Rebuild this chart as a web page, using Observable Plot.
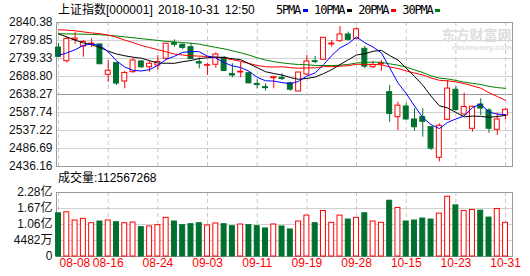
<!DOCTYPE html>
<html><head><meta charset="utf-8">
<script src="https://cdn.jsdelivr.net/npm/d3@7"></script>
<script src="https://cdn.jsdelivr.net/npm/@observablehq/plot@0.6"></script>
<style>
body{margin:0;background:#fff;}
#wrap{position:relative;width:530px;height:276px;overflow:hidden;font-family:"Liberation Sans","Noto Sans CJK SC",sans-serif;color:#000;}
#wrap svg{position:absolute;left:0;}
.t{position:absolute;font-size:12px;line-height:12px;white-space:pre;}
#legend{position:absolute;left:276px;top:4px;display:flex;align-items:center;font-family:"DejaVu Sans Mono",monospace;font-size:12px;letter-spacing:-1.2px;line-height:12px;}
#legend i{display:inline-block;width:5px;height:3px;margin:0 6px 0 3px;}
</style></head><body><div id="wrap"></div>
<script>
// ---- data ----
const dates = ["08-08","08-09","08-10","08-13","08-14","08-15","08-16","08-17","08-20","08-21","08-22","08-23","08-24","08-27","08-28","08-29","08-30","08-31",
"09-03","09-04","09-05","09-06","09-07","09-10","09-11","09-12","09-13","09-14","09-17","09-18","09-19","09-20","09-21","09-25","09-26","09-27","09-28",
"10-08","10-09","10-10","10-11","10-12","10-15","10-16","10-17","10-18","10-19","10-22","10-23","10-24","10-25","10-26","10-29","10-30","10-31"];
const opens = [2770,2731.8,2791.5,2773,2779,2778.6,2693.6,2726.2,2674.8,2700.9,2730.9,2714.9,2719.7,2738.5,2782.3,2777.8,2771.1,2729,
2719,2721.7,2741.3,2696,2700,2698,2668,2658.8,2684,2685,2670,2646.7,2694.4,2731.5,2735.7,2779,2787.9,2806.7,2794.6,
2766.6,2714.9,2723,2644.8,2574.6,2604.6,2568.1,2574.6,2546.5,2460.6,2567.3,2651.5,2582.2,2542,2610.2,2593.4,2539.2,2579.4];
const highs = [2781,2798.3,2812,2790,2795,2780.6,2733.7,2728.1,2702.9,2738.5,2733.7,2731.8,2747.8,2781.5,2791.8,2780.6,2782.3,2741.3,
2726.2,2755.3,2744.9,2724.5,2729,2700,2679.6,2668.3,2690,2696.4,2672.8,2700.5,2747.8,2744.9,2798.3,2789.9,2829.2,2813.2,2825.5,
2773,2731.8,2733.7,2663.6,2616.7,2613.9,2598.2,2598.2,2547,2556,2677.6,2660,2641.9,2605.4,2626.2,2598.2,2585.8,2598.2];
const lows = [2742,2726.2,2779,2743,2770,2722,2672.8,2663.6,2654.3,2698,2711.3,2700.9,2705.7,2735.7,2771.1,2763.8,2736,2710.4,
2691.6,2712.1,2703,2685.2,2685.2,2668.3,2654.3,2647.5,2654.3,2677.6,2647.5,2646,2691.6,2724.5,2733.7,2771.1,2785.1,2787.9,2791.8,
2710.4,2711,2703.7,2560.5,2537.2,2566,2535.3,2518.4,2481.1,2449.2,2565,2590,2579.4,2532.5,2579.4,2529.7,2523.2,2567.3];
const closes = [2744.07,2794.38,2795.31,2785.87,2780.96,2723.26,2705.19,2668.97,2698.47,2733.85,2714.61,2724.62,2729.43,2780.90,2777.98,2769.30,2737.74,2725.25,
2720.73,2750.58,2704.34,2691.59,2702.30,2669.48,2664.80,2656.11,2686.58,2681.64,2651.79,2699.95,2730.85,2729.24,2797.49,2781.14,2806.81,2791.77,2821.35,
2716.51,2721.01,2725.84,2583.46,2606.91,2568.10,2546.33,2561.61,2486.42,2550.47,2654.88,2594.83,2603.30,2603.80,2598.85,2542.10,2568.05,2595.4];
const ma5 = [2748,2755,2764,2776,2780.12,2775.96,2758.12,2732.85,2715.37,2705.95,2704.22,2708.10,2720.20,2736.68,2745.51,2756.45,2759.07,2758.23,
2746.20,2740.72,2727.73,2718.50,2713.91,2703.66,2686.50,2676.86,2675.85,2671.72,2668.18,2675.21,2690.16,2698.69,2721.86,2747.73,2769.11,2781.29,2799.71,
2783.52,2771.49,2755.30,2713.63,2670.75,2641.06,2606.13,2573.28,2553.87,2542.59,2559.94,2569.64,2577.98,2601.46,2611.13,2588.58,2583.22,2581.64];
const ma10 = [2808,2800,2791,2783,2778,2770,2760,2752,2747,2743.04,2740.09,2733.11,2726.53,2726.03,2725.73,2730.34,2733.59,2739.22,
2741.44,2743.12,2742.09,2738.79,2736.07,2724.93,2713.61,2702.30,2697.18,2692.82,2685.92,2680.86,2683.51,2687.27,2696.79,2707.96,2722.16,2735.73,2749.20,
2752.69,2759.61,2762.21,2747.46,2735.23,2712.29,2688.81,2664.29,2633.75,2606.67,2600.50,2587.89,2575.63,2577.67,2576.86,2574.26,2576.43,2579.81];
const ma20 = [2820,2819,2817,2814,2811,2809,2805,2799,2791,2784,2776,2770,2764,2758,2752,2749,2747,2746,
2745,2743.08,2741.09,2735.95,2731.30,2725.48,2719.67,2716.32,2715.39,2716.02,2713.68,2711.99,2712.80,2713.03,2716.43,2716.45,2717.89,2719.02,2723.19,
2722.76,2722.77,2721.54,2715.49,2711.25,2704.54,2698.39,2693.23,2684.74,2677.94,2676.60,2673.75,2668.92,2662.57,2656.05,2643.28,2632.62,2622.05];
const ma30 = [2809,2808.5,2808,2807.5,2807,2806,2804.5,2802.5,2800,2797.5,2795,2792.5,2790,2787.5,2786,2784,2782,2779.5,
2775,2770.5,2766.5,2761,2755.5,2749,2741.5,2735,2730.5,2727,2724.5,2722.34,2721.90,2719.72,2719.80,2719.64,2720.50,2722.79,2726.66,
2728.24,2728.99,2728.73,2724.35,2720.43,2715.05,2707.23,2700.02,2690.59,2684.35,2682.00,2677.81,2672.90,2669.55,2666.45,2661.11,2657.73,2655.42];
// volume, in 亿 (100 million)
const volumes = [1.488,1.526,1.212,1.276,1.109,1.174,1.212,1.147,1.109,1.136,0.958,0.984,1.034,1.314,1.174,1.034,1.071,1.109,
1.022,1.098,1.071,0.996,1.060,1.034,0.996,0.909,1.060,0.984,0.871,1.174,1.401,1.109,1.579,1.125,1.401,1.250,1.314,
1.488,1.174,1.125,1.969,1.693,1.174,1.212,1.288,1.250,1.477,2.121,1.791,1.579,1.617,1.590,1.325,1.655,1.1257];
const priceTicks = [2436.16,2486.69,2537.22,2587.74,2638.27,2688.80,2739.33,2789.85,2840.38];
const midPriceTick = 2638.27;
// the volume axis runs from a floor below zero that the chart labels "0"
const volTicks = [-0.1636,0.4482,1.06,1.6718,2.2836];
const volTickLabels = ["0","4482万","1.06亿","1.67亿","2.28亿"];
const dateTicks = ["08-08","08-16","08-24","09-03","09-11","09-19","09-28","10-15","10-23","10-31"];
const titleText = "上证指数[000001] 2018-10-31 12:50";
const volumeText = "成交量:112567268";
const legendItems = [["5PMA","#0000ff"],["10PMA","#000000"],["20PMA","#ff0000"],["30PMA","#008000"]];

// ---- drawing ----
const RED = "#ff0000", GREEN = "#00702f";
const rows = dates.map((date,i)=>({date, open:opens[i], high:highs[i], low:lows[i], close:closes[i],
  ma5:ma5[i], ma10:ma10[i], ma20:ma20[i], ma30:ma30[i], volume:volumes[i], up: closes[i] >= opens[i]}));
const up = rows.filter(r=>r.up), down = rows.filter(r=>!r.up);
const fontFamily = '"Liberation Sans","Noto Sans CJK SC",sans-serif';
const xOpt = () => ({type:"band", domain:dates, range:[53.9,509.2], paddingInner:0.28, paddingOuter:0.14, round:false, axis:null});
const common = {width:530, marginLeft:56, marginRight:18,
  style:{fontFamily, fontSize:"12px", background:"transparent", color:"#000", overflow:"visible"}};

const pLo = priceTicks[0], pHi = priceTicks[priceTicks.length-1];
const main = Plot.plot({
  ...common, height:172, marginTop:22, marginBottom:6,
  x: xOpt(),
  y: {domain:[pLo,pHi], axis:null},
  marks:[
    Plot.ruleY(priceTicks.filter(t=>t!==pLo && t!==pHi && t!==midPriceTick), {stroke:"#d0d0d0"}),
    Plot.ruleY([midPriceTick], {stroke:"#999", strokeWidth:1.2}),
    Plot.ruleX(dateTicks, {x:d=>d, stroke:"#c8c8c8", strokeDasharray:"4,3"}),
    Plot.text(["东方财富网"], {frameAnchor:"top-right", textAnchor:"end", dy:8, dx:-1, fontSize:14, fontWeight:"bold", fill:"#dedede", fontFamily:'"Noto Sans CJK SC",sans-serif'}),
    Plot.text(["eastmoney.com"], {frameAnchor:"top-right", textAnchor:"end", dy:22, dx:-1, fontSize:8, fontWeight:"bold", fill:"#dedede", letterSpacing:"0.6px"}),
    Plot.frame({stroke:"#999"}),
    Plot.ruleX(up, {x:"date", y1:"low", y2:"high", stroke:RED}),
    Plot.ruleX(down, {x:"date", y1:"low", y2:"high", stroke:GREEN}),
    Plot.barY(up, {x:"date", y1:"open", y2:"close", fill:"white", stroke:RED, insetLeft:0.5, insetRight:0.5}),
    Plot.barY(down, {x:"date", y1:"open", y2:"close", fill:GREEN, stroke:GREEN, insetLeft:0.5, insetRight:0.5}),
    Plot.lineY(rows, {x:"date", y:"ma30", stroke:"#008000", strokeWidth:1}),
    Plot.lineY(rows, {x:"date", y:"ma20", stroke:"#ff0000", strokeWidth:1}),
    Plot.lineY(rows, {x:"date", y:"ma10", stroke:"#000000", strokeWidth:1}),
    Plot.lineY(rows, {x:"date", y:"ma5", stroke:"#0000ff", strokeWidth:1}),
    Plot.text(priceTicks, {y:d=>d, text:d=>d.toFixed(2), frameAnchor:"left", textAnchor:"end", dx:-4, fill:"#111", fontSize:12})
  ]
});
main.style.top = "0px";

const vLo = volTicks[0], vHi = volTicks[volTicks.length-1];
const labelOf = new Map(volTicks.map((t,i)=>[t, volTickLabels[i]]));
const vol = Plot.plot({
  ...common, height:104, marginTop:20, marginBottom:20,
  x: xOpt(),
  y: {domain:[vLo,vHi], axis:null},
  marks:[
    Plot.ruleY(volTicks.filter(t=>t!==vLo && t!==vHi), {stroke:"#d0d0d0"}),
    Plot.ruleX(dateTicks, {x:d=>d, stroke:"#c8c8c8", strokeDasharray:"4,3"}),
    Plot.frame({stroke:"#999"}),
    Plot.barY(up, {x:"date", y1:vLo, y2:"volume", fill:"white", stroke:RED, insetLeft:0.5, insetRight:0.5}),
    Plot.barY(down, {x:"date", y1:vLo, y2:"volume", fill:GREEN, stroke:GREEN, insetLeft:0.5, insetRight:0.5}),
    Plot.text(volTicks, {y:d=>d, text:d=>labelOf.get(d), frameAnchor:"left", textAnchor:"end", dx:-4, fill:"#111", fontSize:12}),
    Plot.text(dateTicks.slice(0,1), {x:d=>d, text:d=>d, frameAnchor:"bottom", textAnchor:"start", dx:1, dy:10.5, fill:RED, fontSize:12}),
    Plot.text(dateTicks.slice(1), {x:d=>d, text:d=>d, frameAnchor:"bottom", textAnchor:"middle", dy:10.5, fill:RED, fontSize:12})
  ]
});
vol.style.top = "172px";

const wrap = document.getElementById("wrap");
wrap.appendChild(main);
wrap.appendChild(vol);

const title = document.createElement("div");
title.className = "t"; title.style.left = "58px"; title.style.top = "4px"; title.style.wordSpacing = "2px";
title.textContent = titleText;
wrap.appendChild(title);

const legend = document.createElement("div");
legend.id = "legend";
for (const [name,color] of legendItems) {
  const s = document.createElement("span"); s.textContent = name; legend.appendChild(s);
  const m = document.createElement("i"); m.style.background = color; legend.appendChild(m);
}
wrap.appendChild(legend);

const vt = document.createElement("div");
vt.className = "t"; vt.style.left = "58px"; vt.style.top = "172px";
vt.textContent = volumeText;
wrap.appendChild(vt);
</script></body></html>
